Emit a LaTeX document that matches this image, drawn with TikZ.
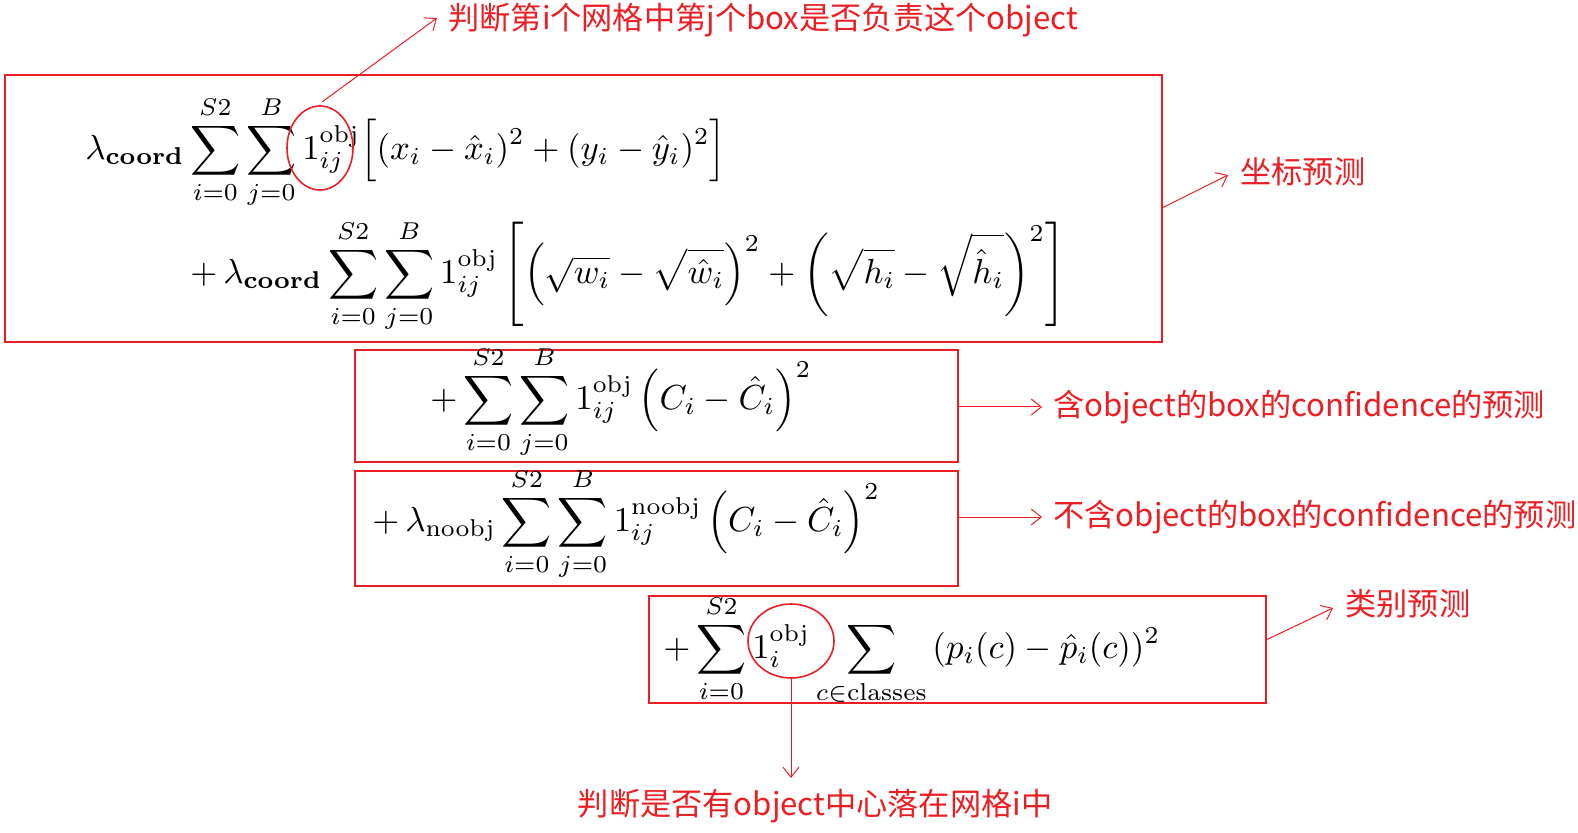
\documentclass[tikz,border=0pt]{standalone}
\usepackage{amsmath}
\usepackage{fontspec}
\newfontfamily\cjk{Noto Sans CJK SC}
\usetikzlibrary{arrows.meta}
\definecolor{lred}{RGB}{235,30,35}
\tikzset{box/.style={draw=lred,line width=1pt},
 lab/.style={text=lred,font=\cjk\fontsize{15.6}{19}\selectfont,inner sep=0},
 arr/.style={draw=lred,line width=0.5pt,-{Straight Barb[length=5pt,width=8pt]}},
 ell/.style={draw=lred,line width=0.8pt},
 fm/.style={inner sep=0,anchor=west}}
\newcommand{\fs}[1]{\scalebox{1.74}{$\displaystyle #1$}}
\begin{document}
\begin{tikzpicture}[x=0.5pt,y=-0.5pt]
\useasboundingbox (0,0) rectangle (1578,833);
\draw[box] (5,75) rectangle (1162,342);
\draw[box] (355,350) rectangle (958,462);
\draw[box] (355,471) rectangle (958,586);
\draw[box] (649,596) rectangle (1266,703);
\node[fm] (f1) at (85,152) {\fs{\lambda_{\textbf{coord}}\sum_{i=0}^{S2}\sum_{j=0}^{B}1_{ij}^{\text{obj}}\Big[(x_i-\hat{x}_i)^2+(y_i-\hat{y}_i)^2\Big]}};
\node[fm] (f2) at (190,276) {\fs{+\,\lambda_{\textbf{coord}}\sum_{i=0}^{S2}\sum_{j=0}^{B}1_{ij}^{\text{obj}}\left[\left(\sqrt{w_i}-\sqrt{\hat{w}_i}\right)^2+\left(\sqrt{h_i}-\sqrt{\hat{h}_i}\right)^2\right]}};
\node[fm] (f3) at (430,402) {\fs{+\sum_{i=0}^{S2}\sum_{j=0}^{B}1_{ij}^{\text{obj}}\left(C_i-\hat{C}_i\right)^2}};
\node[fm] (f4) at (372,524) {\fs{+\,\lambda_{\text{noobj}}\sum_{i=0}^{S2}\sum_{j=0}^{B}1_{ij}^{\text{noobj}}\left(C_i-\hat{C}_i\right)^2}};
\node[fm] (f5) at (663,650) {\fs{+\sum_{i=0}^{S2}1_{i}^{\text{obj}}\sum_{c\in\text{classes}}\,(p_i(c)-\hat{p}_i(c))^2}};
\draw[ell] (320,148) ellipse [x radius=33,y radius=42];
\draw[ell] (791,641) ellipse [x radius=43,y radius=37];
\coordinate (e1) at (322,102);
\coordinate (e2) at (791,678);
\node[lab,anchor=west] (t1) at (448,20) {判断第i个网格中第j个box是否负责这个object};
\node[lab,anchor=west] (t2) at (1240,172) {坐标预测};
\node[lab,anchor=west] (t3) at (1053,407) {含object的box的confidence的预测};
\node[lab,anchor=west] (t4) at (1053,517) {不含object的box的confidence的预测};
\node[lab,anchor=west] (t5) at (1345,604) {类别预测};
\node[lab] (t6) at (815,806) {判断是否有object中心落在网格i中};
\coordinate (a2) at (1162,208);
\coordinate (a3) at (958,407);
\coordinate (a4) at (958,517);
\coordinate (a5) at (1266,640);
\draw[arr] (e1) -- (437,18);
\draw[arr] (a2) -- (1228,175);
\draw[arr] (a3) -- (1042,407);
\draw[arr] (a4) -- (1042,517);
\draw[arr] (a5) -- (1333,608);
\draw[arr] (e2) -- (791,778);
\end{tikzpicture}
\end{document}
